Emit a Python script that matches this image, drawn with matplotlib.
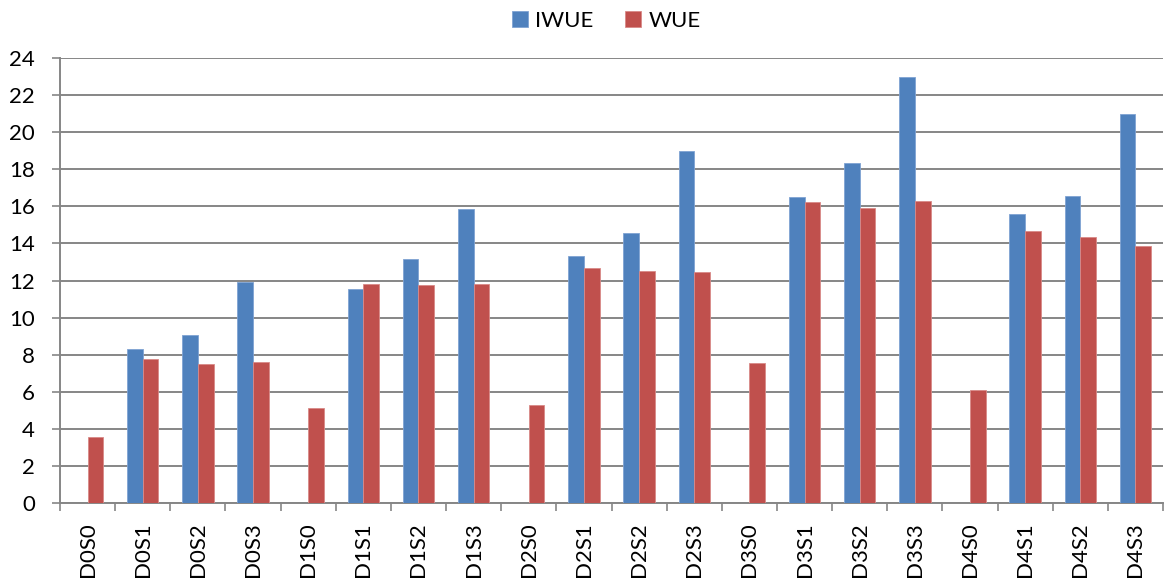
import numpy as np
import matplotlib.pyplot as plt

categories = ["D0S0", "D0S1", "D0S2", "D0S3",
              "D1S0", "D1S1", "D1S2", "D1S3",
              "D2S0", "D2S1", "D2S2", "D2S3",
              "D3S0", "D3S1", "D3S2", "D3S3",
              "D4S0", "D4S1", "D4S2", "D4S3"]
iwue = [0, 8.31, 9.08, 11.92,
        0, 11.56, 13.14, 15.86,
        0, 13.33, 14.54, 19.01,
        0, 16.53, 18.36, 22.99,
        0, 15.6, 16.57, 21.0]
wue = [3.58, 7.75, 7.50, 7.62,
       5.11, 11.79, 11.77, 11.79,
       5.31, 12.65, 12.51, 12.46,
       7.57, 16.22, 15.89, 16.28,
       6.08, 14.65, 14.34, 13.84]
y_ticks = list(range(0, 25, 2))

blue = "#4F81BD"
red = "#C0504D"
grey = "#868686"
font = "Lato"

fig = plt.figure(figsize=(11.68, 5.79), dpi=100)
ax = fig.add_axes([60 / 1168, 1 - 503 / 579, 1103 / 1168, 445 / 579])

x = np.arange(len(categories))
w = 0.285
b1 = ax.bar(x - w / 2, iwue, width=w, color=blue, edgecolor="#7FA3D3",
            linewidth=0.6, label="IWUE", zorder=3)
b2 = ax.bar(x + w / 2, wue, width=w, color=red, edgecolor="#D98A88",
            linewidth=0.6, label="WUE", zorder=3)

ax.set_xlim(-0.5, len(categories) - 0.5)
ax.set_ylim(0, 24)
ax.set_yticks(y_ticks)
ax.set_yticklabels([str(v) for v in y_ticks], fontsize=16, family=font)
ax.yaxis.grid(True, color=grey, linewidth=1.4, zorder=0)
ax.set_axisbelow(True)

# category labels at the centres, small ticks on the group boundaries
ax.set_xticks(x)
ax.set_xticklabels(categories, rotation=90, fontsize=16, family=font)
ax.set_xticks(np.arange(len(categories) + 1) - 0.5, minor=True)
ax.tick_params(axis="x", which="major", length=0, pad=14)
ax.tick_params(axis="x", which="minor", length=6, width=1.2, color=grey)
ax.tick_params(axis="y", length=6, width=1.2, color=grey, pad=12)

for side in ["top", "right"]:
    ax.spines[side].set_visible(False)
for side in ["left", "bottom"]:
    ax.spines[side].set_color(grey)
    ax.spines[side].set_linewidth(1.4)

fig.legend(handles=[b1, b2], loc="center", bbox_to_anchor=(0.519, 0.964),
           ncol=2, frameon=False, prop={"family": font, "size": 16},
           handlelength=0.72, handleheight=0.72, columnspacing=1.45,
           handletextpad=0.32)

fig.savefig("out.png", dpi=100)
